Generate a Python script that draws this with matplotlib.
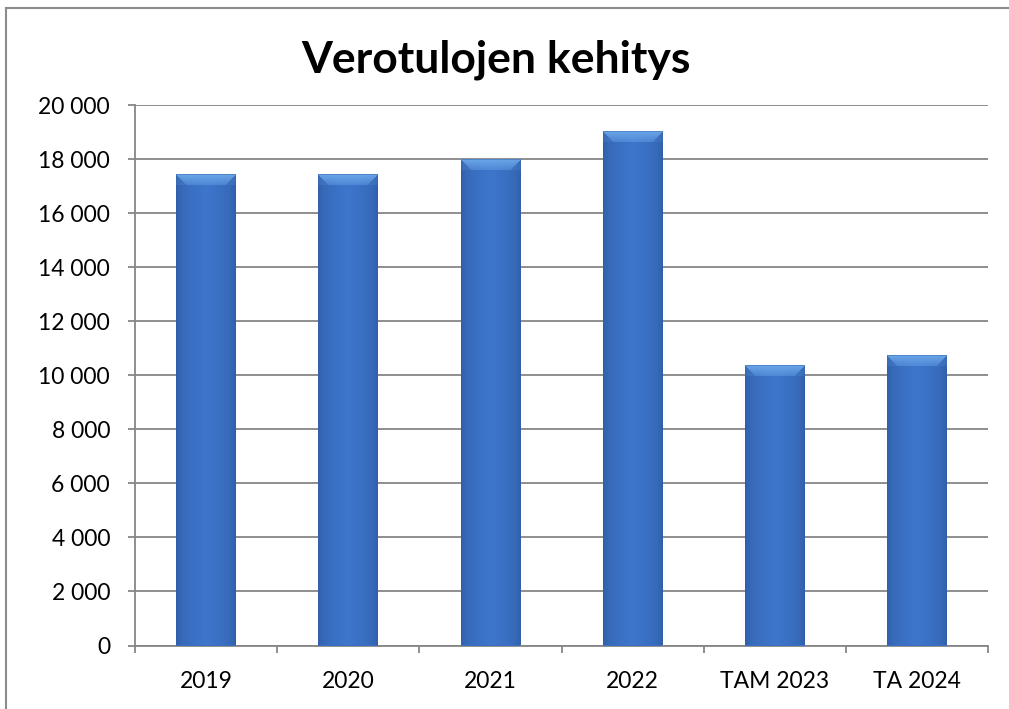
import matplotlib
matplotlib.use("Agg")
import matplotlib.pyplot as plt
import numpy as np
from matplotlib.lines import Line2D
from matplotlib.ticker import FuncFormatter, FixedLocator

categories = ["2019", "2020", "2021", "2022", "TAM 2023", "TA 2024"]
values = [17420, 17420, 17950, 19000, 10330, 10700]
title = "Verotulojen kehitys"

plt.rcParams['font.family'] = ['Lato', 'DejaVu Sans']

W, H = 1009, 709
fig = plt.figure(figsize=(W / 100, H / 100), dpi=100)
ax = fig.add_axes([135 / W, (H - 645.5) / H, (988 - 135) / W, (645.5 - 105) / H])

x = np.arange(len(categories))
bars = ax.bar(x, values, width=0.42, color="#3a6fc3", zorder=3, linewidth=0)

ax.set_xlim(-0.5, len(categories) - 0.5)
ax.set_ylim(0, 20000)
ax.set_yticks(np.arange(0, 20001, 2000))
ax.yaxis.set_major_formatter(FuncFormatter(lambda v, p: f"{int(v):,}".replace(",", " ")))
ax.set_xticks(x)
ax.set_xticklabels(categories)
ax.xaxis.set_minor_locator(FixedLocator(np.arange(-0.5, len(categories), 1.0)))

grid_c = "#868686"
ax.grid(axis="y", color=grid_c, linewidth=1.3, zorder=0)
for s in ["top", "right"]:
    ax.spines[s].set_visible(False)
ax.spines["left"].set_color(grid_c)
ax.spines["bottom"].set_color(grid_c)
ax.spines["left"].set_linewidth(1.3)
ax.spines["bottom"].set_linewidth(1.3)
ax.tick_params(axis="y", which="major", length=5, color=grid_c, width=1.3, pad=13,
               labelsize=16.5, labelcolor="black")
ax.tick_params(axis="x", which="major", length=0, pad=18, labelsize=16.5, labelcolor="black")
ax.tick_params(axis="x", which="minor", length=5, color=grid_c, width=1.3)

# gradient shading for bars
fig.canvas.draw()
for b in bars:
    x0, y0 = b.get_x(), b.get_y()
    bw, bh = b.get_width(), b.get_height()
    p0 = ax.transData.transform((x0, y0))
    p1 = ax.transData.transform((x0 + bw, y0 + bh))
    pw = max(int(round(p1[0] - p0[0])), 2)
    ph = max(int(round(p1[1] - p0[1])), 2)
    u = (np.arange(pw) + 0.5) / pw
    dark = np.array([0x2c, 0x57, 0x9e]) / 255
    mid = np.array([0x3e, 0x76, 0xcc]) / 255
    t = np.clip(1 - np.abs(u - 0.5) * 2, 0, 1) ** 0.35
    prof = dark[None, :] * (1 - t[:, None]) + mid[None, :] * t[:, None]
    img = np.repeat(prof[None, :, :], ph, axis=0)
    bev = 11
    light = np.array([0x6c, 0xa8, 0xea]) / 255
    xs = np.arange(pw)
    for r in range(min(bev, ph)):
        lo, hi = r, pw - r
        frac = 0.35 + 0.6 * (1 - r / bev)
        seg = (xs >= lo) & (xs < hi)
        img[r, seg] = light * frac + img[r, seg] * (1 - frac)
        img[r, ~seg] = img[r, ~seg] * 0.85 + light * 0.15
    img[0, :] = img[0, :] * 0.6 + dark * 0.4
    ax.imshow(img, extent=(x0, x0 + bw, y0, y0 + bh), aspect="auto", zorder=4,
              interpolation="bilinear", origin="upper")
ax.set_xlim(-0.5, len(categories) - 0.5)
ax.set_ylim(0, 20000)

fig.text(496 / W, 1 - 60 / H, title, ha="center", va="center", fontsize=32,
         fontweight="bold", color="black")

border_c = "#8c8c8c"
fig.add_artist(Line2D([6 / W, 6 / W], [0, 1 - 8 / H], transform=fig.transFigure,
                      color=border_c, linewidth=1.5))
fig.add_artist(Line2D([6 / W, 1], [1 - 8 / H, 1 - 8 / H], transform=fig.transFigure,
                      color=border_c, linewidth=1.5))

fig.savefig("out.png", dpi=100, facecolor="white")
